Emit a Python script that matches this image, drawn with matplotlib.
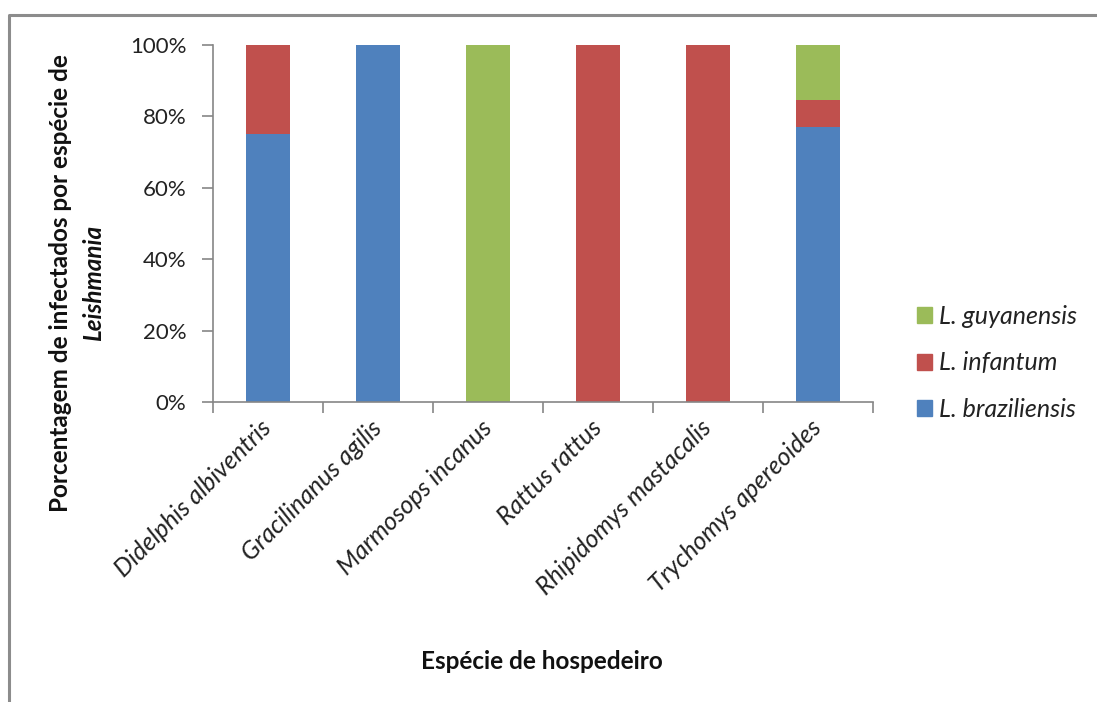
import numpy as np
import matplotlib.pyplot as plt
from matplotlib.lines import Line2D
from matplotlib.patches import Patch
from matplotlib.ticker import PercentFormatter

plt.rcParams['font.family'] = ['Lato', 'DejaVu Sans']

especies = ['Didelphis albiventris', 'Gracilinanus agilis', 'Marmosops incanus',
            'Rattus rattus', 'Rhipidomys mastacalis', 'Trychomys apereoides']
l_braziliensis = [75.0, 100.0, 0.0, 0.0, 0.0, 76.9]
l_infantum = [25.0, 0.0, 0.0, 100.0, 100.0, 7.7]
l_guyanensis = [0.0, 0.0, 100.0, 0.0, 0.0, 15.4]
y_ticks = [0, 20, 40, 60, 80, 100]

azul = '#4F81BD'
vermelho = '#C0504D'
verde = '#9BBB59'
cinza = '#868686'

fig = plt.figure(figsize=(10.97, 7.02), dpi=100, facecolor='white')
ax = fig.add_axes([0.194, 0.4274, 0.602, 0.5086])

x = np.arange(len(especies))
b1 = np.array(l_braziliensis)
b2 = b1 + np.array(l_infantum)
ax.bar(x, l_braziliensis, width=0.4, color=azul)
ax.bar(x, l_infantum, width=0.4, bottom=b1, color=vermelho)
ax.bar(x, l_guyanensis, width=0.4, bottom=b2, color=verde)

ax.set_xlim(-0.5, len(especies) - 0.5)
ax.set_ylim(0, 100)
ax.set_yticks(y_ticks)
ax.yaxis.set_major_formatter(PercentFormatter(decimals=0))

for s in ['top', 'right']:
    ax.spines[s].set_visible(False)
for s in ['left', 'bottom']:
    ax.spines[s].set_color(cinza)
    ax.spines[s].set_linewidth(1.2)

ax.tick_params(axis='y', length=8, width=1.2, color=cinza, pad=11,
               labelsize=16, labelcolor='#222222')
# marcas entre categorias no eixo x
ax.set_xticks(np.arange(-0.5, len(especies)), minor=True)
ax.set_xticks(x)
ax.tick_params(axis='x', which='major', length=0, pad=16)
ax.tick_params(axis='x', which='minor', length=8, width=1.2, color=cinza)
ax.set_xticklabels(especies, rotation=45, ha='right', va='center',
                   rotation_mode='anchor', fontsize=18, style='italic',
                   color='#222222')

fig.text(0.055, 0.597, 'Porcentagem de infectados por espécie de',
         rotation=90, ha='center', va='center', fontsize=17.5,
         fontweight='bold', color='#111111')
fig.text(0.085, 0.597, 'Leishmania', rotation=90, ha='center', va='center',
         fontsize=17.5, fontweight='bold', style='italic', color='#111111')
fig.text(0.494, 0.057, 'Espécie de hospedeiro', ha='center', va='center',
         fontsize=17.5, fontweight='bold', color='#111111')

handles = [Patch(color=verde), Patch(color=vermelho), Patch(color=azul)]
nomes = ['L. guyanensis', 'L. infantum', 'L. braziliensis']
leg = fig.legend(handles, nomes, loc='upper left',
                 bbox_to_anchor=(0.815, 0.598), frameon=False,
                 handlelength=0.6, handleheight=0.6, handletextpad=0.3,
                 labelspacing=0.95, prop={'size': 18, 'style': 'italic'})
for t in leg.get_texts():
    t.set_color('#222222')

# moldura da área do gráfico (só esquerda e topo aparecem)
xb = 9 / 1097
yb = 1 - 15 / 702
fig.add_artist(Line2D([xb, xb, 1.1], [-0.1, yb, yb], transform=fig.transFigure,
                      color='#8C8C8C', linewidth=2.2))

fig.savefig('out.png', dpi=100, facecolor='white')
